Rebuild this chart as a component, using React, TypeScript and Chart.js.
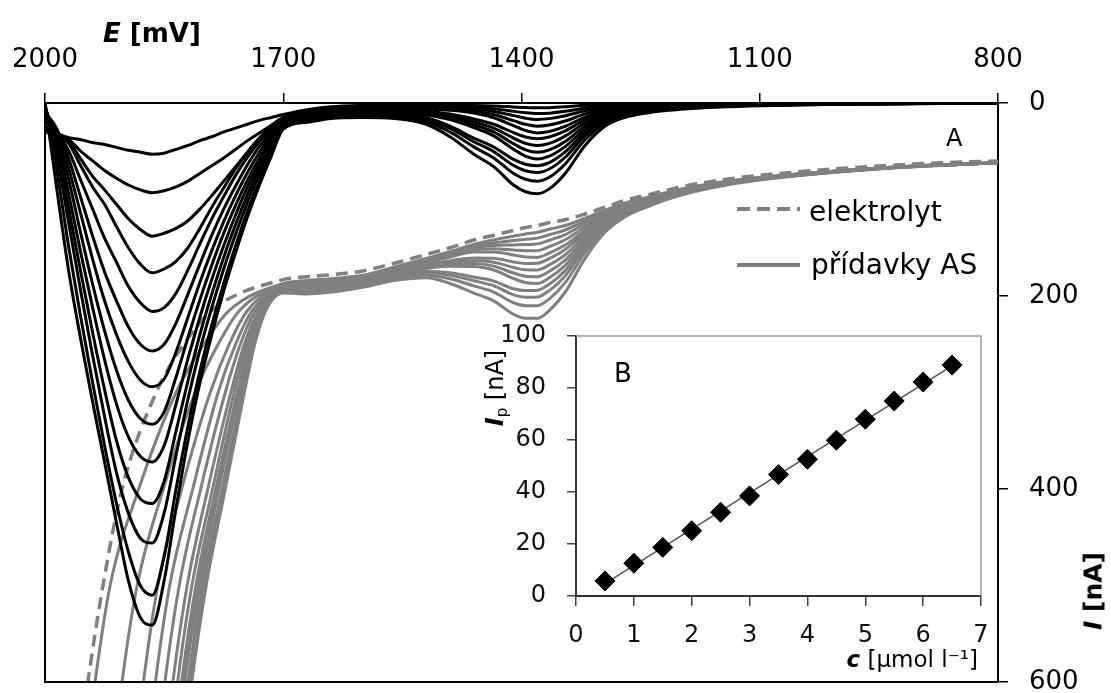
import React, { useEffect, useRef } from "react";
import { Chart, registerables } from "chart.js";

Chart.register(...registerables);

const FONT = "'DejaVu Sans', sans-serif";

// ---------- Main chart (A): potential grid for baseline-corrected curves ----------
const E_BLACK = [
  2000, 1985, 1970, 1955, 1940, 1925, 1910, 1895, 1880, 1865,
  1850, 1835, 1820, 1805, 1790, 1775, 1760, 1745, 1730, 1715, 1700,
  1670, 1640, 1600, 1560, 1520, 1490, 1460, 1435, 1410, 1395, 1380, 1365, 1345, 1320,
  1295, 1270, 1240, 1200, 1150, 1100, 1000, 900, 800,
];

// baseline-corrected voltammograms (black), I in nA, one row per addition
const BLACK_I = [
  [28, 32, 36, 38, 41, 43, 46, 49, 51, 53, 52, 48, 44, 39, 35, 30, 26, 22, 18, 15, 12, 7, 4, 2.5, 2, 2.1, 2.2, 2.5, 3.1, 4.1, 4.7, 5, 4.8, 3.9, 2.4, 1.3, 0.8, 0.6, 0.4, 0.2, 0.2, 0.1, 0, 0],
  [30, 34, 38, 50, 60, 70, 78, 85, 90, 93, 91, 87, 81, 73, 65, 57, 48, 39, 31, 23, 15, 9, 5, 3.5, 3, 3.2, 3.5, 4.4, 6, 8.6, 10.2, 11, 10.5, 8.6, 5.2, 2.9, 1.8, 1.2, 0.8, 0.5, 0.3, 0.2, 0.1, 0],
  [30, 33, 40, 58, 76, 90, 105, 120, 131, 138, 135, 130, 122, 110, 96, 81, 66, 51, 37, 26, 16, 10, 6, 4.5, 4, 4.3, 4.8, 6.2, 8.8, 13.1, 15.7, 17, 16.2, 13.3, 8, 4.4, 2.7, 1.9, 1.2, 0.8, 0.5, 0.3, 0.1, 0],
  [25, 30, 42, 65, 87, 105, 128, 150, 167, 176, 172, 164, 150, 130, 108, 88, 68, 51, 36, 25, 16, 11, 7, 5.5, 5, 5.4, 6.1, 8.2, 12, 18.3, 22.1, 24, 22.8, 18.7, 11.3, 6.2, 3.8, 2.6, 1.7, 1.1, 0.7, 0.4, 0.2, 0],
  [20, 30, 50, 80, 110, 140, 165, 190, 207, 216, 212, 197, 173, 146, 120, 97, 75, 56, 40, 27, 17, 12, 8, 6.5, 6, 6.5, 7.5, 10.3, 15.3, 23.5, 28.5, 31, 29.5, 24.2, 14.6, 8.1, 5, 3.4, 2.2, 1.4, 0.9, 0.5, 0.2, 0],
  [15, 28, 58, 98, 138, 175, 205, 232, 250, 257, 250, 228, 198, 167, 137, 110, 86, 64, 45, 30, 18, 13, 9, 7.5, 7, 8.5, 11.5, 16.6, 22, 30.7, 35.2, 37, 35.2, 28.9, 17.4, 9.6, 5.9, 4.1, 2.6, 1.7, 1.1, 0.6, 0.3, 0],
  [10, 27, 68, 115, 162, 205, 240, 268, 287, 294, 286, 258, 222, 186, 153, 123, 96, 72, 51, 33, 19, 14, 10, 8.5, 8, 9.8, 13.4, 19.5, 26, 36.4, 41.8, 44, 41.8, 34.3, 20.7, 11.4, 7, 4.8, 3.1, 2, 1.3, 0.7, 0.4, 0],
  [8, 32, 80, 135, 188, 236, 277, 308, 327, 333, 320, 284, 243, 204, 168, 135, 106, 80, 57, 37, 20, 15, 11, 9.5, 9, 11.1, 15.3, 22.4, 30, 42.2, 48.5, 51, 48.5, 39.8, 24, 13.3, 8.2, 5.6, 3.6, 2.3, 1.5, 0.8, 0.4, 0],
  [5, 38, 95, 155, 212, 266, 312, 346, 366, 372, 355, 312, 265, 222, 183, 148, 116, 87, 62, 40, 21, 16, 12, 10.5, 10, 12.4, 17.2, 25.4, 34, 47.9, 55.1, 58, 55.1, 45.2, 27.3, 15.1, 9.3, 6.4, 4.1, 2.6, 1.7, 0.9, 0.5, 0],
  [4, 45, 110, 175, 238, 297, 350, 388, 410, 415, 392, 340, 288, 240, 198, 160, 126, 95, 67, 43, 22, 17, 12.5, 11.5, 11, 15.3, 24, 36.4, 45.6, 58.5, 63.4, 65, 61.8, 50.7, 30.6, 16.9, 10.4, 7.2, 4.6, 2.9, 2, 1, 0.5, 0],
  [2, 55, 125, 195, 262, 325, 383, 425, 451, 456, 425, 365, 307, 256, 212, 172, 136, 103, 73, 47, 23, 17.5, 13.5, 12.5, 12, 16.8, 26.4, 40.2, 50.4, 64.8, 70.2, 72, 68.4, 56.2, 33.8, 18.7, 11.5, 7.9, 5, 3.2, 2.2, 1.1, 0.6, 0],
  [0, 70, 150, 222, 290, 355, 415, 465, 500, 510, 470, 400, 335, 278, 230, 187, 148, 112, 80, 51, 25, 19, 15, 14, 14, 19.4, 30.1, 45.5, 56.9, 73, 79, 81, 77, 63.2, 38.1, 21.1, 13, 8.9, 5.7, 3.6, 2.4, 1.2, 0.6, 0],
  [0, 90, 175, 245, 310, 372, 435, 495, 533, 541, 495, 420, 350, 290, 240, 195, 155, 118, 85, 55, 27, 20, 16, 15, 16, 22, 35, 53, 66, 85, 92, 94, 89, 73, 44, 24, 15, 10, 6.6, 4.2, 2.8, 1.4, 0.8, 0],
];

// raw voltammograms (grey): steep front read as potentials at fixed current levels
const GRAY_LEVEL_I = [700, 600, 500, 400, 300, 250, 215];
const ELEC_FRONT_E = [1962, 1946, 1927, 1903, 1860, 1825, 1790];
const GRAY_FRONT_E = [
  [1952, 1937, 1918, 1882, 1835, 1800, 1768],
  [1917, 1903, 1884, 1851, 1811, 1782, 1755],
  [1890, 1876, 1858, 1828, 1792, 1768, 1745],
  [1875, 1861, 1843, 1814, 1782, 1760, 1739],
  [1863, 1849, 1831, 1804, 1773, 1754, 1735],
  [1853, 1839, 1821, 1795, 1766, 1749, 1731],
  [1847, 1833, 1815, 1789, 1762, 1746, 1729],
  [1842, 1828, 1810, 1785, 1758, 1743, 1727],
  [1839, 1826, 1808, 1783, 1757, 1742, 1726],
  [1837, 1824, 1805, 1781, 1755, 1740, 1725],
  [1833, 1820, 1802, 1777, 1752, 1739, 1724],
  [1830, 1817, 1799, 1775, 1751, 1737, 1723],
  [1828, 1815, 1797, 1773, 1749, 1736, 1722],
];

// grey curves after the front, on a shared potential grid
const E_GRAY = [1700, 1670, 1640, 1600, 1560, 1520, 1490, 1460, 1435, 1410, 1395, 1380, 1365, 1345, 1320, 1295, 1270, 1240, 1200, 1150, 1100, 1000, 900, 800];
const ELEC_I = [183, 180, 178, 174, 166, 157, 150, 142, 137, 132, 129, 127, 124, 121, 115, 108, 101, 95, 87, 80, 75, 68, 63, 60];
const GRAY_I = [
  [187, 184, 182, 178.5, 170, 161, 154, 146.5, 142, 138, 135.7, 134, 130.8, 127, 119.4, 111.3, 103.8, 97.6, 89.4, 82.2, 77.2, 70.1, 65, 62],
  [188, 185, 183, 179.5, 171, 162.2, 155.5, 148.4, 145, 142.6, 141.2, 140, 136.5, 131.6, 122.2, 112.9, 104.8, 98.2, 89.8, 82.5, 77.3, 70.2, 65.1, 62],
  [189, 186, 184, 180.5, 172, 163.3, 156.8, 150.2, 147.8, 147.1, 146.7, 146, 142.2, 136.3, 125, 114.4, 105.7, 98.9, 90.2, 82.8, 77.5, 70.3, 65.1, 62],
  [190, 187, 185, 181.5, 173, 164.4, 158.1, 152.2, 151, 152.3, 153.1, 153, 148.8, 141.7, 128.3, 116.2, 106.8, 99.6, 90.7, 83.1, 77.7, 70.4, 65.2, 62],
  [190, 188, 186, 182.5, 174, 165.5, 159.5, 154.3, 154.3, 157.5, 159.5, 160, 155.5, 147.2, 131.6, 118.1, 108, 100.4, 91.2, 83.4, 77.9, 70.5, 65.2, 62],
  [191, 189, 187, 183.5, 175, 167.5, 163.5, 160.6, 161, 164.7, 166.2, 166, 161.2, 151.9, 134.4, 119.6, 108.9, 101.1, 91.6, 83.7, 78.1, 70.6, 65.3, 62],
  [192, 190, 188, 184.5, 176, 168.8, 165.4, 163.5, 165, 170.4, 172.8, 173, 167.8, 157.3, 137.7, 121.4, 110, 101.8, 92.1, 84, 78.3, 70.7, 65.4, 62],
  [193, 191, 189, 185.5, 177, 170.1, 167.3, 166.4, 169, 176.2, 179.5, 180, 174.5, 162.8, 141, 123.3, 111.2, 102.6, 92.6, 84.3, 78.5, 70.8, 65.4, 62],
  [194, 192, 190, 186.5, 178, 171.4, 169.2, 169.4, 173, 181.9, 186.1, 187, 181.1, 168.2, 144.3, 125.1, 112.3, 103.4, 93.1, 84.6, 78.7, 70.9, 65.5, 62],
  [195, 193, 191, 187.5, 179, 174.3, 176, 180.4, 184.6, 192.5, 194.4, 194, 187.8, 173.7, 147.6, 126.9, 113.4, 104.2, 93.6, 84.9, 79, 71, 65.5, 62],
  [196, 194, 192, 188.5, 180, 175.8, 178.4, 184.2, 189.4, 198.8, 201.2, 201, 194.4, 179.2, 150.8, 128.7, 114.5, 104.9, 94, 85.2, 79.2, 71.1, 65.6, 62],
  [196, 196, 194, 190, 182, 178.4, 182.1, 189.5, 195.9, 207, 210, 210, 203, 186.2, 155.1, 131.1, 116, 105.9, 94.7, 85.6, 79.4, 71.2, 65.6, 62],
  [197, 198, 196, 191, 184, 181, 187, 197, 205, 219, 223, 223, 215, 196, 161, 134, 118, 107, 95.6, 86.2, 79.8, 71.4, 65.8, 62],
];

const E_TICKS = [2000, 1700, 1400, 1100, 800];
const I_TICKS = [0, 200, 400, 600];

// ---------- Inset (B): calibration ----------
const C_UMOL = [0.5, 1, 1.5, 2, 2.5, 3, 3.5, 4, 4.5, 5, 5.5, 6, 6.5];
const IP_NA = [5.8, 12.6, 18.7, 25.1, 32.2, 38.5, 46.7, 52.6, 59.9, 68, 75, 82.3, 88.8];

const LEGEND_LABELS = ["elektrolyt", "přídavky AS"];

function linearFit(xs: number[], ys: number[]) {
  const n = xs.length;
  const mx = xs.reduce((a, b) => a + b, 0) / n;
  const my = ys.reduce((a, b) => a + b, 0) / n;
  let sxy = 0, sxx = 0;
  for (let i = 0; i < n; i++) {
    sxy += (xs[i] - mx) * (ys[i] - my);
    sxx += (xs[i] - mx) * (xs[i] - mx);
  }
  const k = sxy / sxx;
  return { k, q: my - k * mx };
}

function clearPad(s: any) {
  s.paddingLeft = 0;
  s.paddingRight = 0;
  s.paddingTop = 0;
  s.paddingBottom = 0;
}

export default function App() {
  const mainRef = useRef<HTMLCanvasElement>(null);
  const insetRef = useRef<HTMLCanvasElement>(null);

  useEffect(() => {
    const common = {
      pointRadius: 0,
      pointHoverRadius: 0,
      cubicInterpolationMode: "monotone" as const,
      fill: false,
    };
    const datasets: any[] = [];
    BLACK_I.forEach((row) => {
      datasets.push({
        ...common,
        data: row.map((v, i) => ({ x: E_BLACK[i], y: v })),
        borderColor: "#000000",
        borderWidth: 3,
        order: 0,
      });
    });
    datasets.push({
      ...common,
      data: [
        ...GRAY_LEVEL_I.map((v, i) => ({ x: ELEC_FRONT_E[i], y: v })),
        ...ELEC_I.map((v, i) => ({ x: E_GRAY[i], y: v })),
      ],
      borderColor: "#808080",
      borderWidth: 3.5,
      borderDash: [12, 7],
      order: 1,
    });
    GRAY_I.forEach((row, k) => {
      datasets.push({
        ...common,
        data: [
          ...GRAY_LEVEL_I.map((v, i) => ({ x: GRAY_FRONT_E[k][i], y: v })),
          ...row.map((v, i) => ({ x: E_GRAY[i], y: v })),
        ],
        borderColor: "#808080",
        borderWidth: 3,
        order: 2,
      });
    });

    const framePlugin = {
      id: "frame",
      afterDraw(chart: any) {
        const { ctx, chartArea: a } = chart;
        ctx.save();
        ctx.strokeStyle = "#000";
        ctx.lineWidth = 2;
        ctx.beginPath();
        ctx.moveTo(a.left, a.top);
        ctx.lineTo(a.left, a.bottom);
        ctx.lineTo(a.right, a.bottom);
        ctx.stroke();
        ctx.restore();
      },
    };

    const main = new Chart(mainRef.current!, {
      type: "line",
      data: { datasets },
      options: {
        animation: false,
        responsive: false,
        maintainAspectRatio: false,
        layout: { padding: { left: 45, right: 0, top: 0, bottom: 11 } },
        plugins: { legend: { display: false }, tooltip: { enabled: false } },
        scales: {
          x: {
            type: "linear",
            position: "top",
            reverse: true,
            min: 800,
            max: 2000,
            afterFit: (s: any) => { s.height = 103; clearPad(s); },
            afterBuildTicks: (s: any) => { s.ticks = E_TICKS.map((v) => ({ value: v })); },
            ticks: {
              font: { family: FONT, size: 26 },
              color: "#000",
              padding: 17,
              maxRotation: 0,
              autoSkip: false,
              callback: (v: any) => String(v),
            },
            grid: { drawOnChartArea: false, tickLength: 10, color: "#000", lineWidth: 1.5 },
            border: { display: true, color: "#000", width: 2 },
          },
          y: {
            type: "linear",
            position: "right",
            reverse: true,
            min: 0,
            max: 600,
            afterFit: (s: any) => { s.width = 113; clearPad(s); },
            afterBuildTicks: (s: any) => { s.ticks = I_TICKS.map((v) => ({ value: v })); },
            ticks: {
              font: { family: FONT, size: 26 },
              color: "#000",
              padding: 21,
              autoSkip: false,
              callback: (v: any) => String(v),
            },
            grid: { drawOnChartArea: false, tickLength: 10, color: "#000", lineWidth: 1.5 },
            border: { display: true, color: "#000", width: 2 },
          },
        },
      },
      plugins: [framePlugin],
    });

    const fit = linearFit(C_UMOL, IP_NA);
    const cMin = Math.min(...C_UMOL);
    const cMax = Math.max(...C_UMOL);

    const insetPlugin = {
      id: "insetBox",
      beforeDraw(chart: any) {
        const { ctx, chartArea: a } = chart;
        ctx.save();
        ctx.fillStyle = "#ffffff";
        ctx.fillRect(a.left, a.top, a.right - a.left, a.bottom - a.top);
        ctx.restore();
      },
      afterDraw(chart: any) {
        const { ctx, chartArea: a } = chart;
        ctx.save();
        ctx.strokeStyle = "#9a9a9a";
        ctx.lineWidth = 1.5;
        ctx.beginPath();
        ctx.moveTo(a.left, a.top);
        ctx.lineTo(a.right, a.top);
        ctx.lineTo(a.right, a.bottom);
        ctx.stroke();
        ctx.restore();
      },
    };

    const inset = new Chart(insetRef.current!, {
      type: "scatter",
      data: {
        datasets: [
          {
            type: "scatter",
            data: C_UMOL.map((c, i) => ({ x: c, y: IP_NA[i] })),
            pointStyle: "rectRot",
            pointRadius: 10,
            backgroundColor: "#000",
            borderColor: "#000",
            borderWidth: 1,
            order: 0,
          },
          {
            type: "line",
            data: [
              { x: cMin, y: fit.k * cMin + fit.q },
              { x: cMax, y: fit.k * cMax + fit.q },
            ],
            borderColor: "#555",
            borderWidth: 1.5,
            pointRadius: 0,
            order: 1,
          } as any,
        ],
      },
      options: {
        animation: false,
        responsive: false,
        maintainAspectRatio: false,
        layout: { padding: { left: 0, right: 19, top: 36, bottom: 0 } },
        plugins: { legend: { display: false }, tooltip: { enabled: false } },
        scales: {
          x: {
            type: "linear",
            min: 0,
            max: 7,
            afterFit: (s: any) => { s.height = 94; clearPad(s); },
            ticks: { stepSize: 1, font: { family: FONT, size: 24 }, color: "#111", padding: 15 },
            grid: { drawOnChartArea: false, tickLength: 10, color: "#444", lineWidth: 1.5 },
            border: { display: true, color: "#333", width: 2 },
          },
          y: {
            type: "linear",
            min: 0,
            max: 100,
            afterFit: (s: any) => { s.width = 136; clearPad(s); },
            ticks: { stepSize: 20, font: { family: FONT, size: 24 }, color: "#111", padding: 21 },
            grid: { drawOnChartArea: false, tickLength: 9, color: "#444", lineWidth: 1.5 },
            border: { display: true, color: "#333", width: 2 },
          },
        },
      },
      plugins: [insetPlugin],
    });

    return () => {
      main.destroy();
      inset.destroy();
    };
  }, []);

  const txt = (extra: React.CSSProperties): React.CSSProperties => ({
    position: "absolute",
    fontFamily: FONT,
    lineHeight: 1,
    whiteSpace: "nowrap",
    color: "#000",
    ...extra,
  });

  return (
    <div style={{ position: "fixed", left: 0, top: 0, width: 1111, height: 693, background: "#fff", overflow: "hidden" }}>
      <canvas ref={mainRef} width={1111} height={693} style={{ position: "absolute", left: 0, top: 0, display: "block" }} />
      <canvas ref={insetRef} width={560} height={390} style={{ position: "absolute", left: 440, top: 300, display: "block" }} />

      <div style={txt({ left: 103, top: 20, fontSize: 26, fontWeight: "bold" })}>
        <i>E</i> [mV]
      </div>
      <div style={{ position: "absolute", left: 1093, top: 591, width: 0, height: 0 }}>
        <div style={txt({ left: 0, top: 0, fontSize: 25, fontWeight: "bold", transform: "translate(-50%, -50%) rotate(-90deg)" })}>
          <i>I</i> [nA]
        </div>
      </div>
      <div style={txt({ left: 946, top: 126, fontSize: 24 })}>A</div>

      <svg width={80} height={90} style={{ position: "absolute", left: 730, top: 195 }}>
        <line x1={7} y1={14} x2={70} y2={14} stroke="#7f7f7f" strokeWidth={4} strokeDasharray="13 7" />
        <line x1={7} y1={70} x2={70} y2={70} stroke="#7f7f7f" strokeWidth={4} />
      </svg>
      <div style={txt({ left: 809, top: 198, fontSize: 28 })}>{LEGEND_LABELS[0]}</div>
      <div style={txt({ left: 811, top: 251, fontSize: 28 })}>{LEGEND_LABELS[1]}</div>

      <div style={txt({ left: 614, top: 360, fontSize: 26 })}>B</div>
      <div style={txt({ right: 1111 - 978, top: 648, fontSize: 23 })}>
        <b><i>c</i></b> [µmol l⁻¹]
      </div>
      <div style={{ position: "absolute", left: 496, top: 388, width: 0, height: 0 }}>
        <div style={txt({ left: 0, top: 0, fontSize: 24, transform: "translate(-50%, -50%) rotate(-90deg)" })}>
          <b><i>I</i></b><sub style={{ fontSize: 15, verticalAlign: "-4px" }}>p</sub> [nA]
        </div>
      </div>
    </div>
  );
}
